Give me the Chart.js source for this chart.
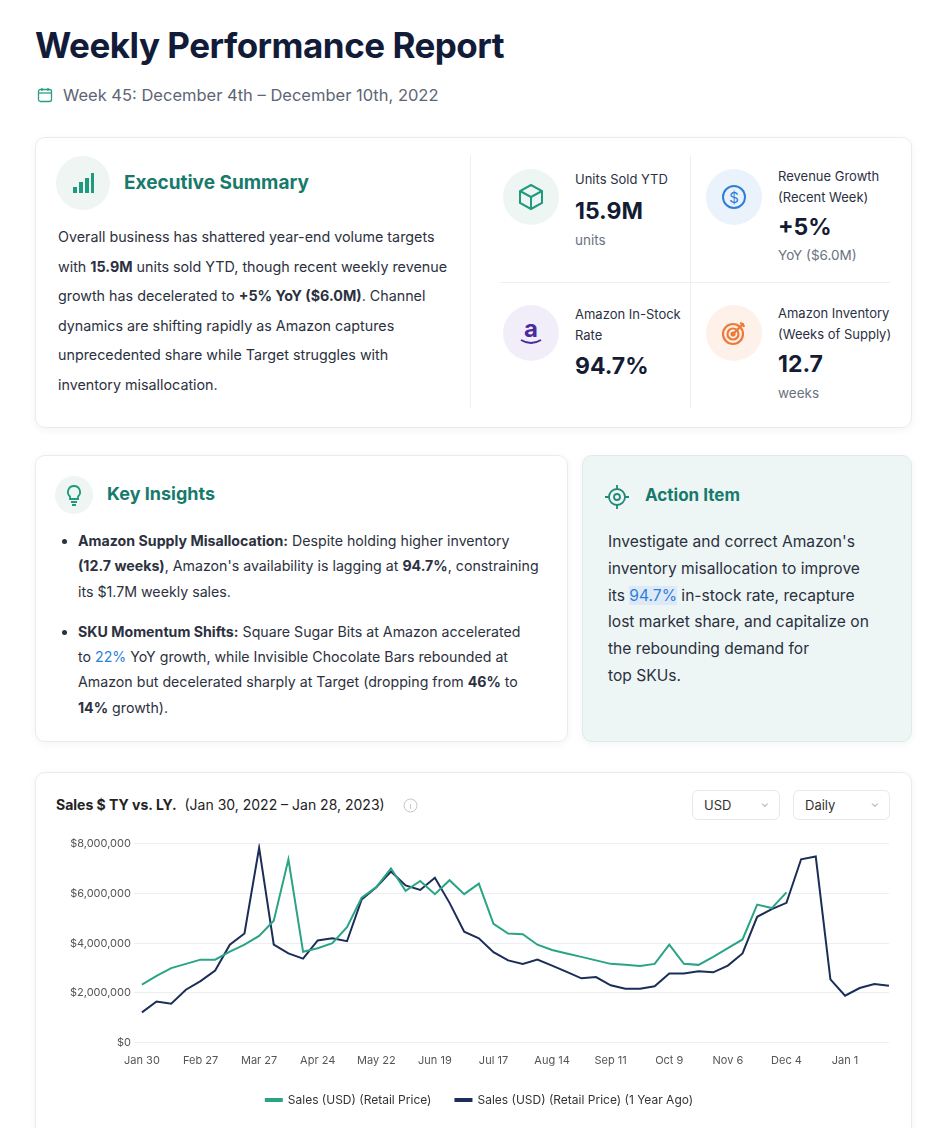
<!DOCTYPE html>
<html>
<head>
<meta charset="utf-8">
<script src="https://cdn.jsdelivr.net/npm/chart.js@4"></script>
<style>
  body { margin: 0; background: #fff; font-family: Inter, "Noto Sans", sans-serif; color: #1b2338; width: 946px; height: 1128px; overflow: hidden; position: relative; }
  .abs { position: absolute; }
  .card { position: absolute; background: #fff; border: 1px solid #e9ecef; border-radius: 10px; box-shadow: 0 2px 8px rgba(20,40,60,0.05); }
  h1 { position: absolute; left: 35px; top: 24px; margin: 0; font-size: 35px; font-weight: 700; color: #121c38; letter-spacing: -0.5px; }
  .sub { left: 37px; top: 85px; font-size: 16.5px; color: #5d6575; }
  .circ { position: absolute; border-radius: 50%; display: flex; align-items: center; justify-content: center; }
  .ttl { position: absolute; font-weight: 700; color: #177a6c; }
  .lbl { position: absolute; font-size: 13px; color: #2b3142; line-height: 21px; }
  .val { position: absolute; font-size: 23px; font-weight: 700; color: #141c33; }
  .small { position: absolute; font-size: 13.5px; color: #6b7280; }
  .para { position: absolute; font-size: 14.3px; line-height: 29.6px; color: #2c3140; white-space: nowrap; }
  ul { margin: 0; padding-left: 18px; }
  li { margin-bottom: 15px; }
  .sel { position: absolute; top: 790px; height: 30px; border: 1px solid #e5e8ec; border-radius: 6px; font-size: 13px; color: #333; box-sizing: border-box; padding: 6px 11px; }
  .sel span { position: absolute; right: 10px; top: 5px; color: #aaa; font-size: 11px; }
</style>
</head>
<body>
<h1>Weekly Performance Report</h1>
<div class="abs sub">
  <svg width="16" height="16" viewBox="0 0 16 16" style="vertical-align:-2px;margin-right:10px"><rect x="1.5" y="2.5" width="13" height="12" rx="2" fill="none" stroke="#2a9d87" stroke-width="1.3"/><line x1="1.5" y1="6" x2="14.5" y2="6" stroke="#2a9d87" stroke-width="1.3"/><line x1="5" y1="1" x2="5" y2="4" stroke="#2a9d87" stroke-width="1.3"/><line x1="11" y1="1" x2="11" y2="4" stroke="#2a9d87" stroke-width="1.3"/></svg>Week 45: December 4th – December 10th, 2022
</div>

<!-- executive summary -->
<div class="card" style="left:35px;top:137px;width:875px;height:289px"></div>
<div class="circ" style="left:56px;top:156px;width:54px;height:54px;background:#eef5f3">
  <svg width="24" height="22"><rect x="2" y="15" width="4" height="6" fill="#1f9a7c"/><rect x="8" y="10" width="4" height="11" fill="#1f9a7c"/><rect x="14" y="6" width="4" height="15" fill="#1f9a7c"/><rect x="20" y="1" width="3" height="20" fill="#1f9a7c"/></svg>
</div>
<div class="ttl" style="left:124px;top:171px;font-size:19px">Executive Summary</div>
<div class="para" style="left:58px;top:222px">Overall business has shattered year-end volume targets<br>with <b>15.9M</b> units sold YTD, though recent weekly revenue<br>growth has decelerated to <b>+5% YoY ($6.0M)</b>. Channel<br>dynamics are shifting rapidly as Amazon captures<br>unprecedented share while Target struggles with<br>inventory misallocation.</div>
<div class="abs" style="left:470px;top:155px;width:1px;height:253px;background:#edf0f2"></div>
<div class="abs" style="left:690px;top:155px;width:1px;height:253px;background:#edf0f2"></div>
<div class="abs" style="left:500px;top:282px;width:390px;height:1px;background:#edf0f2"></div>

<div class="circ" style="left:503px;top:169px;width:56px;height:56px;background:#eef6f3">
  <svg width="30" height="30" viewBox="0 0 30 30" fill="none" stroke="#1f9a7c" stroke-width="2"><path d="M15 3 L26 9 L26 21 L15 27 L4 21 L4 9 Z"/><path d="M4 9 L15 15 L26 9 M15 15 L15 27"/></svg>
</div>
<div class="lbl" style="left:575px;top:169px">Units Sold YTD</div>
<div class="val" style="left:575px;top:197px">15.9M</div>
<div class="small" style="left:575px;top:232px">units</div>

<div class="circ" style="left:706px;top:169px;width:56px;height:56px;background:#eaf2fb">
  <svg width="28" height="28" viewBox="0 0 28 28"><circle cx="14" cy="14" r="11" fill="none" stroke="#2f7fd8" stroke-width="2"/><text x="14" y="19.5" text-anchor="middle" font-size="15" font-family="Inter" fill="#2f7fd8">$</text></svg>
</div>
<div class="lbl" style="left:778px;top:166px">Revenue Growth<br>(Recent Week)</div>
<div class="val" style="left:778px;top:213px">+5%</div>
<div class="small" style="left:778px;top:247px">YoY ($6.0M)</div>

<div class="circ" style="left:503px;top:305px;width:56px;height:56px;background:#f1eefa">
  <svg width="30" height="30" viewBox="0 0 30 30"><text x="15" y="19" text-anchor="middle" font-size="24" font-weight="700" font-family="Inter" fill="#4b2a9e">a</text><path d="M5 22 Q15 28 25 22" fill="none" stroke="#4b2a9e" stroke-width="2"/></svg>
</div>
<div class="lbl" style="left:575px;top:304px">Amazon In-Stock<br>Rate</div>
<div class="val" style="left:575px;top:352px">94.7%</div>

<div class="circ" style="left:706px;top:305px;width:56px;height:56px;background:#fdf1e9">
  <svg width="28" height="28" viewBox="0 0 28 28" fill="none" stroke="#ee7a3a" stroke-width="2.2"><circle cx="13" cy="15" r="10"/><circle cx="13" cy="15" r="5.5"/><circle cx="13" cy="15" r="1.5" fill="#ee7a3a"/><path d="M13 15 L23 5 M20 4 L23 5 L24 8"/></svg>
</div>
<div class="lbl" style="left:778px;top:303px">Amazon Inventory<br>(Weeks of Supply)</div>
<div class="val" style="left:778px;top:350px">12.7</div>
<div class="small" style="left:778px;top:385px">weeks</div>

<!-- key insights -->
<div class="card" style="left:35px;top:455px;width:531px;height:285px"></div>
<div class="circ" style="left:55px;top:476px;width:38px;height:38px;background:#eef5f3">
  <svg width="20" height="22" viewBox="0 0 20 22" fill="none" stroke="#1f9a7c" stroke-width="1.8"><path d="M10 2 a6 6 0 0 1 4 10.5 V15 H6 V12.5 A6 6 0 0 1 10 2 Z"/><path d="M7 18 H13 M8 21 H12"/></svg>
</div>
<div class="ttl" style="left:107px;top:483px;font-size:18px">Key Insights</div>
<div class="para" style="left:60px;top:528px;font-size:14.2px;line-height:25.3px">
<ul>
<li><b>Amazon Supply Misallocation:</b> Despite holding higher inventory<br><b>(12.7 weeks)</b>, Amazon's availability is lagging at <b>94.7%</b>, constraining<br>its $1.7M weekly sales.</li>
<li><b>SKU Momentum Shifts:</b> Square Sugar Bits at Amazon accelerated<br>to <span style="color:#2f7fd8">22%</span> YoY growth, while Invisible Chocolate Bars rebounded at<br>Amazon but decelerated sharply at Target (dropping from <b>46%</b> to<br><b>14%</b> growth).</li>
</ul>
</div>

<!-- action item -->
<div class="card" style="left:582px;top:455px;width:328px;height:285px;background:#eef6f5;border-color:#dcebea"></div>
<svg class="abs" style="left:604px;top:484px" width="26" height="26" viewBox="0 0 26 26" fill="none" stroke="#1f8a78" stroke-width="1.8"><circle cx="13" cy="13" r="8"/><circle cx="13" cy="13" r="3"/><path d="M13 1 V6 M13 20 V25 M1 13 H6 M20 13 H25"/></svg>
<div class="ttl" style="left:645px;top:485px;font-size:17px">Action Item</div>
<div class="para" style="left:608px;top:529px;font-size:15.6px;line-height:26.8px;color:#2a3040">Investigate and correct Amazon's<br>inventory misallocation to improve<br>its <span style="color:#2f7fd8;background:#dde9f6">94.7%</span> in-stock rate, recapture<br>lost market share, and capitalize on<br>the rebounding demand for<br>top SKUs.</div>

<!-- chart card -->
<div class="card" style="left:35px;top:772px;width:875px;height:400px"></div>
<div class="abs" style="left:56px;top:796px;font-size:14px;color:#222"><b>Sales $ TY vs. LY.</b>&nbsp; (Jan 30, 2022 – Jan 28, 2023)
  <svg width="15" height="15" style="vertical-align:-3px;margin-left:14px"><circle cx="7.5" cy="7.5" r="6.5" fill="none" stroke="#c4c8ce"/><line x1="7.5" y1="6" x2="7.5" y2="11" stroke="#c4c8ce"/></svg></div>
<div class="sel" style="left:692px;width:88px">USD<span>⌄</span></div>
<div class="sel" style="left:793px;width:97px">Daily<span>⌄</span></div>

<div class="abs" style="left:40px;top:834px;width:852px;height:282px"><canvas id="salesChart"></canvas></div>

<script>
const weeks = ['Jan 30','Feb 6','Feb 13','Feb 20','Feb 27','Mar 6','Mar 13','Mar 20','Mar 27','Apr 3','Apr 10','Apr 17','Apr 24',
  'May 1','May 8','May 15','May 22','May 29','Jun 5','Jun 12','Jun 19','Jun 26','Jul 3','Jul 10','Jul 17','Jul 24','Jul 31',
  'Aug 7','Aug 14','Aug 21','Aug 28','Sep 4','Sep 11','Sep 18','Sep 25','Oct 2','Oct 9','Oct 16','Oct 23','Oct 30',
  'Nov 6','Nov 13','Nov 20','Nov 27','Dec 4','Dec 11','Dec 18','Dec 25','Jan 1','Jan 8','Jan 15','Jan 22'];

// sales in $M, this year (stops at current week)
const salesTY = [2.34,2.69,3.0,3.17,3.34,3.34,3.66,3.94,4.29,4.9,7.37,3.66,3.8,4.0,4.64,5.83,6.25,7.0,6.1,6.5,5.97,6.53,5.97,6.39,4.78,4.39,
  4.36,3.94,3.73,3.59,3.45,3.31,3.17,3.13,3.08,3.17,3.94,3.17,3.13,3.45,3.8,4.15,5.55,5.41,6.04];
// sales in $M, one year ago
const salesLY = [1.22,1.66,1.57,2.13,2.48,2.9,3.94,4.39,7.83,3.94,3.59,3.38,4.11,4.2,4.08,5.76,6.25,6.88,6.32,6.14,6.63,5.62,4.46,4.2,3.64,3.31,
  3.17,3.34,3.1,2.85,2.59,2.64,2.31,2.17,2.17,2.27,2.78,2.78,2.87,2.83,3.1,3.59,5.06,5.37,5.62,7.37,7.48,2.55,1.89,2.2,2.36,2.29];

const toDollars = arr => arr.map(v => v * 1000000);

new Chart(document.getElementById('salesChart'), {
  type: 'line',
  data: {
    labels: weeks,
    datasets: [
      { label: 'Sales (USD) (Retail Price)', data: toDollars(salesTY), borderColor: '#2aa484', backgroundColor: '#2aa484', borderWidth: 2, pointRadius: 0, tension: 0 },
      { label: 'Sales (USD) (Retail Price) (1 Year Ago)', data: toDollars(salesLY), borderColor: '#1b2e57', backgroundColor: '#1b2e57', borderWidth: 2, pointRadius: 0, tension: 0 }
    ]
  },
  options: {
    responsive: true,
    maintainAspectRatio: false,
    animation: false,
    layout: { padding: { left: 27, right: 0, top: 4 } },
    plugins: {
      legend: {
        position: 'bottom',
        labels: { font: { family: 'Inter', size: 12 }, color: '#333', boxWidth: 16, boxHeight: 2, padding: 24 }
      },
      tooltip: { enabled: false }
    },
    scales: {
      x: {
        grid: { display: false },
        border: { display: false },
        ticks: {
          autoSkip: false, maxRotation: 0, color: '#555', font: { family: 'Inter', size: 11 },
          callback: (v, i) => i % 4 === 0 ? weeks[i] : ''
        }
      },
      y: {
        min: 0, max: 8000000,
        grid: { color: '#eceef1' },
        border: { display: false },
        ticks: { stepSize: 2000000, color: '#555', font: { family: 'Inter', size: 11 }, callback: v => '$' + v.toLocaleString('en-US') }
      }
    }
  }
});
</script>
</body>
</html>
